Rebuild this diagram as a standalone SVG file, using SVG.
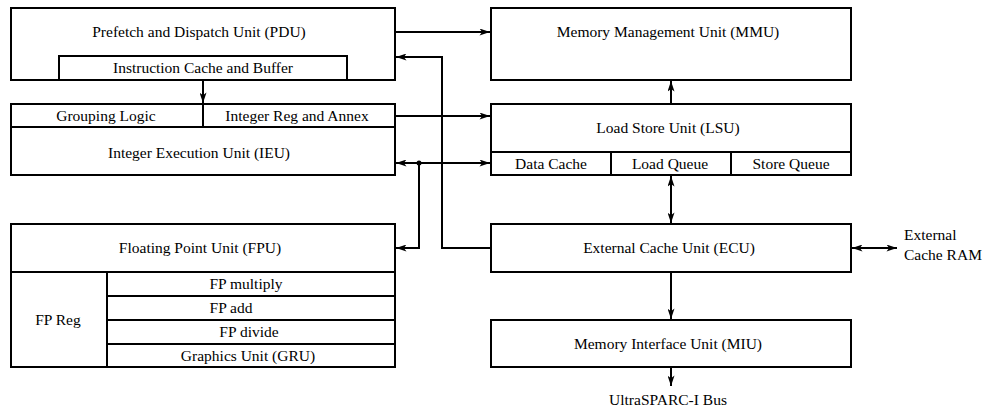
<svg xmlns="http://www.w3.org/2000/svg" width="984" height="411" viewBox="0 0 984 411">
<defs>
<style>
rect,line.d{fill:none;stroke:#000;stroke-width:2}
.c{fill:none;stroke:#000;stroke-width:2}
.t text{text-anchor:middle}
</style>
<marker id="ah" viewBox="0 0 12 8" refX="12" refY="4" markerWidth="12" markerHeight="7" markerUnits="userSpaceOnUse" orient="auto-start-reverse">
<path d="M0,0 L12,4 L0,8 L3,4 Z" fill="#000"/>
</marker>
</defs>
<rect width="984" height="411" fill="#fff" style="stroke:none"/>
<g class="t" font-family="'Liberation Serif', 'Times New Roman', serif" font-size="15.5" fill="#000">
<g id="pdu">
<rect x="11" y="8" width="384" height="72"/>
<text x="199" y="37">Prefetch and Dispatch Unit (PDU)</text>
<rect x="59" y="56" width="288" height="24"/>
<text x="203" y="73">Instruction Cache and Buffer</text>
</g>
<g id="ieu">
<rect x="11" y="104" width="384" height="71"/>
<line class="d" x1="11" y1="127" x2="395" y2="127"/>
<line class="d" x1="203" y1="104" x2="203" y2="127"/>
<text x="106" y="121">Grouping Logic</text>
<text x="297" y="121">Integer Reg and Annex</text>
<text x="199" y="158">Integer Execution Unit (IEU)</text>
</g>
<g id="mmu">
<rect x="491" y="8" width="360" height="72"/>
<text x="668" y="37">Memory Management Unit (MMU)</text>
</g>
<g id="lsu">
<rect x="491" y="104" width="360" height="71"/>
<line class="d" x1="491" y1="152" x2="851" y2="152"/>
<line class="d" x1="611" y1="152" x2="611" y2="175"/>
<line class="d" x1="731" y1="152" x2="731" y2="175"/>
<text x="668" y="133">Load Store Unit (LSU)</text>
<text x="551" y="169">Data Cache</text>
<text x="670" y="169">Load Queue</text>
<text x="791" y="169">Store Queue</text>
</g>
<g id="fpu">
<rect x="11" y="224" width="384" height="143"/>
<line class="d" x1="11" y1="272" x2="395" y2="272"/>
<line class="d" x1="107" y1="272" x2="107" y2="367"/>
<line class="d" x1="107" y1="296" x2="395" y2="296"/>
<line class="d" x1="107" y1="320" x2="395" y2="320"/>
<line class="d" x1="107" y1="344" x2="395" y2="344"/>
<text x="200" y="253">Floating Point Unit (FPU)</text>
<text x="58" y="325">FP Reg</text>
<text x="246" y="289">FP multiply</text>
<text x="231" y="313">FP add</text>
<text x="249" y="337">FP divide</text>
<text x="248" y="361">Graphics Unit (GRU)</text>
</g>
<g id="ecu">
<rect x="491" y="224" width="360" height="48"/>
<text x="669" y="253">External Cache Unit (ECU)</text>
</g>
<g id="miu">
<rect x="491" y="320" width="360" height="47"/>
<text x="668" y="349">Memory Interface Unit (MIU)</text>
</g>
<g id="ext-ram">
<text x="904" y="240" text-anchor="start" style="text-anchor:start">External</text>
<text x="904" y="260" text-anchor="start" style="text-anchor:start">Cache RAM</text>
</g>
<g id="bus">
<text x="668" y="405">UltraSPARC-I Bus</text>
</g>
</g>
<g id="connectors">
<path class="c" d="M395,32 H490" marker-end="url(#ah)"/>
<path class="c" d="M203,80 V103" marker-end="url(#ah)"/>
<path class="c" d="M395,116 H490" marker-end="url(#ah)"/>
<path class="c" d="M396,163 H490" marker-start="url(#ah)" marker-end="url(#ah)"/>
<circle cx="419" cy="163" r="2.5" fill="#000"/>
<path class="c" d="M419,163 V248 H396" marker-end="url(#ah)"/>
<path class="c" d="M491,248 H442 V57 H396" marker-end="url(#ah)"/>
<path class="c" d="M671,104 V81" marker-end="url(#ah)"/>
<path class="c" d="M671,176 V223" marker-start="url(#ah)" marker-end="url(#ah)"/>
<path class="c" d="M671,272 V319" marker-end="url(#ah)"/>
<path class="c" d="M852,248 H897" marker-start="url(#ah)" marker-end="url(#ah)"/>
<path class="c" d="M671,367 V386" marker-end="url(#ah)"/>
</g>
</svg>
